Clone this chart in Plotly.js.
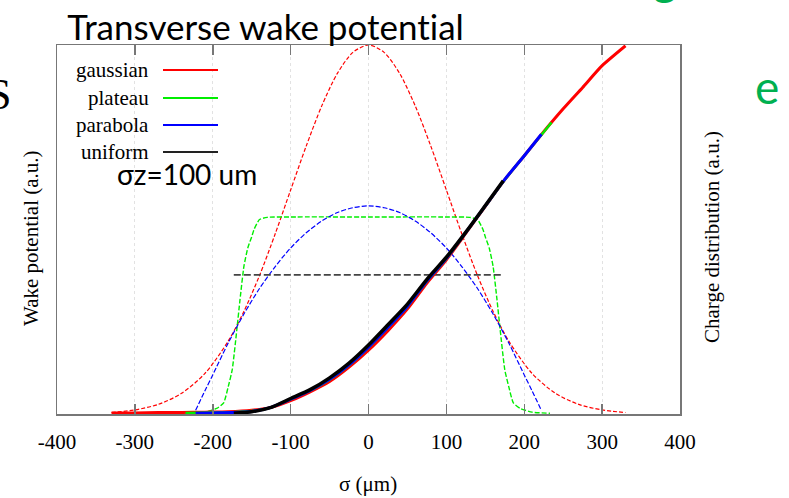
<!DOCTYPE html>
<html>
<head>
<meta charset="utf-8">
<script src="https://cdn.plot.ly/plotly-3.0.1.min.js"></script>
<style>
html,body{margin:0;padding:0;background:#fff;}
#chart{width:789px;height:498px;}
#chart text{font-variant-ligatures:none;font-feature-settings:"liga" 0, "clig" 0;}
</style>
</head>
<body>
<div id="chart"></div>
<script>
// ---- Data ----
// Charge distributions (dashed), sigma in µm, values in a.u. (0..1 of plot height)
const sigmaGauss  = [-330,-300,-270,-240,-210,-180,-160,-140,-120,-100,-80,-60,-40,-20,0,20,40,60,80,100,120,140,160,180,210,240,270,300,330];
const chargeGauss = [0.004,0.011,0.026,0.056,0.110,0.198,0.278,0.375,0.487,0.607,0.726,0.835,0.923,0.980,1.0,0.980,0.923,0.835,0.726,0.607,0.487,0.375,0.278,0.198,0.110,0.056,0.026,0.011,0.004];

const sigmaPlat  = [-233,-210,-195,-186,-180,-175,-169,-165,-160,-155,-150,-147,-140,-130,-100,0,100,130,140,147,150,155,160,165,169,175,180,186,195,210,233];
const chargePlat = [0.002,0.005,0.015,0.03,0.075,0.12,0.23,0.31,0.40,0.45,0.48,0.50,0.527,0.533,0.534,0.534,0.534,0.533,0.527,0.50,0.48,0.45,0.40,0.31,0.23,0.12,0.075,0.03,0.015,0.005,0.002];

const sigmaPara  = [-222,-210,-200,-180,-160,-140,-120,-100,-80,-60,-40,-20,0,20,40,60,80,100,120,140,160,180,200,210,222];
const chargePara = [0.01,0.063,0.106,0.193,0.271,0.340,0.399,0.450,0.491,0.523,0.546,0.559,0.564,0.559,0.546,0.523,0.491,0.450,0.399,0.340,0.271,0.193,0.106,0.063,0.01];

const sigmaUni  = [-173,173];
const chargeUni = [0.377,0.377];

// Wake potentials (solid)
const sigmaWakeGauss = [-330,-300,-270,-240,-210,-180,-150,-125,-100,-75,-50,-25,0,25,50,75,100,125,150,175,200,225,250,275,300,330];
const wakeGauss      = [0.003,0.003,0.004,0.004,0.005,0.006,0.010,0.018,0.036,0.060,0.088,0.127,0.173,0.226,0.285,0.355,0.418,0.490,0.563,0.635,0.700,0.765,0.827,0.885,0.944,0.998];

const sigmaWakePlat = [-235,-200,-175,-150,-125,-100,-75,-50,-25,0,25,50,75,100,125,150,175,200,235];
const wakePlat      = [0.003,0.004,0.005,0.008,0.018,0.040,0.063,0.093,0.132,0.180,0.234,0.291,0.360,0.421,0.491,0.563,0.635,0.700,0.790];

const sigmaWakePara = [-222,-200,-175,-150,-125,-100,-75,-50,-25,0,25,50,75,100,125,150,175,200,222];
const wakePara      = [0.002,0.003,0.004,0.007,0.018,0.040,0.064,0.094,0.133,0.181,0.235,0.292,0.361,0.422,0.492,0.564,0.636,0.700,0.758];

const sigmaWakeUni = [-173,-150,-125,-100,-75,-50,-25,0,25,50,75,100,125,150,173];
const wakeUni      = [0.002,0.006,0.018,0.042,0.066,0.098,0.138,0.187,0.242,0.298,0.365,0.425,0.493,0.565,0.632];

const xTickVals  = [-400,-300,-200,-100,0,100,200,300,400];
const xTickText  = ['-400','-300','-200','-100','0','100','200','300','400'];
const legendNames = ['gaussian','plateau','parabola','uniform'];
const seriesColors = ['#ff0000','#00ee00','#0000ff','#000000'];

// ---- Traces ----
const traces = [
  {x: sigmaGauss, y: chargeGauss, mode:'lines', line:{color:seriesColors[0], width:1.2, dash:'4px,2px', shape:'spline', smoothing:0.8}},
  {x: sigmaPlat,  y: chargePlat,  mode:'lines', line:{color:seriesColors[1], width:1.4, dash:'5px,2px', shape:'spline', smoothing:0.5}},
  {x: sigmaPara,  y: chargePara,  mode:'lines', line:{color:seriesColors[2], width:1.2, dash:'5px,2px', shape:'spline', smoothing:0.8}},
  {x: sigmaUni,   y: chargeUni,   mode:'lines', line:{color:'#444444', width:1.6, dash:'7px,3px'}},
  {x: sigmaWakeGauss, y: wakeGauss, mode:'lines', line:{color:seriesColors[0], width:3, shape:'spline', smoothing:0.6}},
  {x: sigmaWakePlat,  y: wakePlat,  mode:'lines', line:{color:seriesColors[1], width:2.5, shape:'spline', smoothing:0.6}},
  {x: sigmaWakePara,  y: wakePara,  mode:'lines', line:{color:seriesColors[2], width:3, shape:'spline', smoothing:0.6}},
  {x: sigmaWakeUni,   y: wakeUni,   mode:'lines', line:{color:seriesColors[3], width:3.5, shape:'spline', smoothing:0.6}}
];

// ---- Layout helpers (pixel -> paper) ----
const L = 57, R = 680, T = 45, B = 414;
const px = v => (v - L) / (R - L);
const py = v => (B - v) / (B - T);

const serif = 'Liberation Serif, Times New Roman, serif';
const sans  = 'Lato, Open Sans, sans-serif';

function ann(o){ return Object.assign({xref:'paper', yref:'paper', showarrow:false}, o); }

const annotations = [
  ann({text:'Transverse wake potential', x:px(65), y:py(26), xanchor:'left', yanchor:'middle', font:{family:sans, size:35, color:'#000'}}),
  ann({text:'σz=100 um', x:px(187), y:py(174), xanchor:'center', yanchor:'middle', font:{family:sans, size:28, color:'#000'}}),
  ann({text:'Wake potential (a.u.)', x:px(31), y:py(238), textangle:-90, xanchor:'center', yanchor:'middle', font:{family:serif, size:21, color:'#000'}}),
  ann({text:'Charge distribution (a.u.)', x:px(712), y:py(237), textangle:-90, xanchor:'center', yanchor:'middle', font:{family:serif, size:21, color:'#000'}}),
  ann({text:'σ (μm)', x:px(368), y:py(484), xanchor:'center', yanchor:'middle', font:{family:serif, size:21, color:'#000'}}),
  ann({text:'S', x:px(13), y:py(95), xanchor:'right', yanchor:'middle', font:{family:serif, size:44, color:'#000'}}),
  ann({text:'e', x:px(767), y:py(86), xanchor:'center', yanchor:'middle', font:{family:sans, size:46, color:'#00b050'}}),
  ann({text:'g', x:px(665), y:py(-23), xanchor:'center', yanchor:'middle', font:{family:sans, size:46, color:'#00b050'}})
];
const legendY = [70, 98, 125, 152];
const shapes = [];
legendNames.forEach((n, i) => {
  annotations.push(ann({text:n, x:px(151), y:py(legendY[i]), xanchor:'right', yanchor:'middle', font:{family:serif, size:21, color:'#000'}}));
  shapes.push({type:'line', xref:'paper', yref:'paper', x0:px(163), x1:px(218), y0:py(legendY[i]), y1:py(legendY[i]), line:{color: i===3 ? '#222' : seriesColors[i], width:2}});
});

const layout = {
  width:789, height:498,
  margin:{l:L, r:789-R, t:T, b:498-B, pad:0},
  paper_bgcolor:'#fff', plot_bgcolor:'#fff',
  showlegend:false,
  xaxis:{range:[-400,400], tickvals:xTickVals, ticktext:xTickText, ticks:'inside', ticklen:10, tickcolor:'#777', tickwidth:1.5,
         ticklabelstandoff:8,
         showline:true, linecolor:'#777', linewidth:1.5, mirror:'ticks', showgrid:true, gridcolor:'#e2e2e2', griddash:'dot', gridwidth:1,
         zeroline:false, tickfont:{family:serif, size:21, color:'#000'}, fixedrange:true},
  yaxis:{range:[0,1], showticklabels:false, ticks:'', showgrid:false, zeroline:false, showline:true, linecolor:'#777', linewidth:1.5, mirror:true, fixedrange:true},
  annotations: annotations,
  shapes: shapes
};

Plotly.newPlot('chart', traces, layout, {staticPlot:true, displayModeBar:false});
</script>
</body>
</html>
